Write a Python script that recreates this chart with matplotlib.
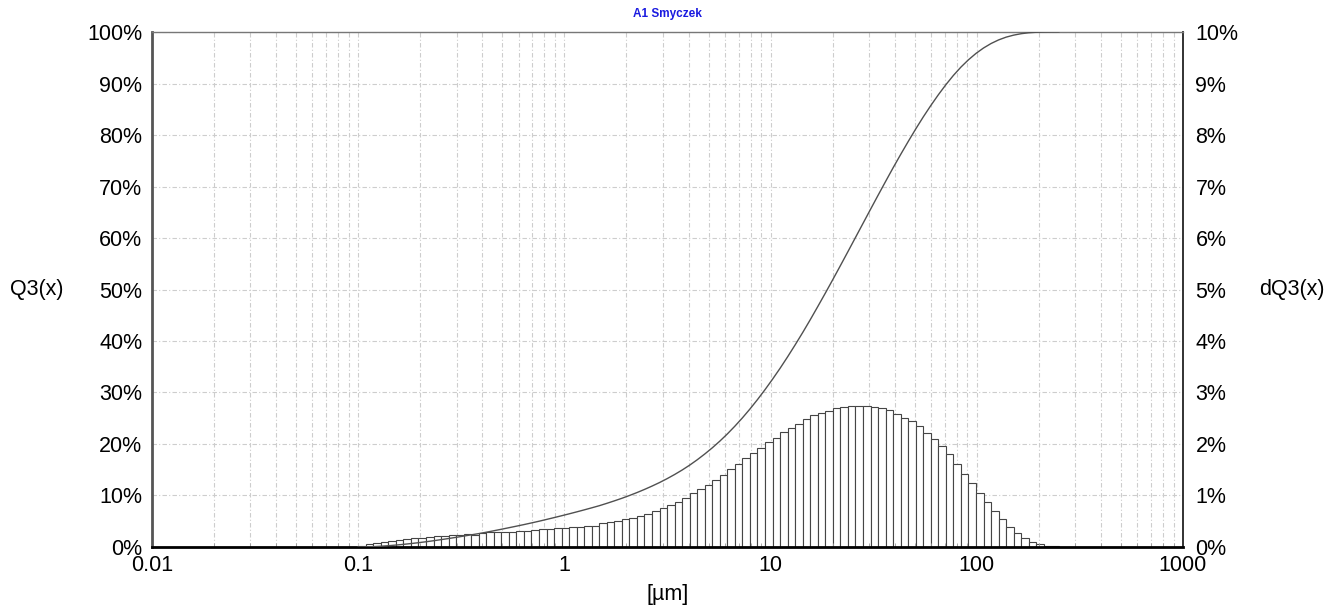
import numpy as np
import matplotlib
matplotlib.use("Agg")
import matplotlib.pyplot as plt
from matplotlib.ticker import FixedLocator, FuncFormatter, LogLocator, NullFormatter

plt.rcParams['font.family'] = ['Liberation Sans', 'DejaVu Sans']

# Particle size classes (µm): geometric classes between these limits
size_lo = 0.1
size_hi = 250.0

# dQ3 per size class (%)
dq3 = [
    0.02, 0.05, 0.08, 0.10, 0.12, 0.14, 0.155, 0.17, 0.18, 0.20, 0.21, 0.22, 0.23, 0.24, 0.245, 0.24,
    0.266, 0.285, 0.29, 0.30, 0.30, 0.31, 0.32, 0.33, 0.35, 0.355, 0.36, 0.37, 0.38, 0.39, 0.40, 0.41,
    0.46, 0.48, 0.50, 0.54, 0.57, 0.61, 0.65, 0.69, 0.75, 0.81, 0.87, 0.95, 1.04, 1.12, 1.20, 1.30,
    1.40, 1.51, 1.61, 1.72, 1.83, 1.93, 2.03, 2.12, 2.23, 2.32, 2.39, 2.48, 2.56, 2.60, 2.65, 2.69,
    2.72, 2.74, 2.74, 2.74, 2.72, 2.69, 2.66, 2.58, 2.51, 2.44, 2.34, 2.21, 2.09, 1.96, 1.80, 1.62,
    1.42, 1.24, 1.05, 0.87, 0.70, 0.54, 0.39, 0.28, 0.18, 0.10, 0.05, 0.02, 0.01,
]

x_ticks = [0.01, 0.1, 1, 10, 100, 1000]
x_labels = ["0.01", "0.1", "1", "10", "100", "1000"]
q3_ticks = list(range(0, 101, 10))
dq3_ticks = list(range(0, 11, 1))

title = "A1 Smyczek"

dq3 = np.asarray(dq3)
edges = np.geomspace(size_lo, size_hi, len(dq3) + 1)
q3 = np.concatenate([[0.0], np.cumsum(dq3)])

fig = plt.figure(figsize=(13.44, 6.10), dpi=100)
ax = fig.add_axes([0.1131, 0.1033, 0.7671, 0.8442])
ax2 = ax.twinx()

# the histogram axis sits below, the cumulative curve axis above it
ax.set_zorder(2)
ax2.set_zorder(1)
ax.patch.set_visible(False)
ax2.patch.set_visible(True)
ax2.patch.set_facecolor("white")

ax.set_xscale("log")
ax.set_xlim(0.01, 1000)
ax.set_ylim(0, 100)
ax2.set_ylim(0, 10)

# grid on the lower axis so that the bars cover it
ax2.xaxis.set_visible(True)
ax2.set_axisbelow(True)
ax2.xaxis.set_major_locator(FixedLocator(x_ticks))
ax2.xaxis.set_minor_locator(LogLocator(base=10, subs=np.arange(2, 10), numticks=20))
ax2.xaxis.set_major_formatter(NullFormatter())
ax2.xaxis.set_minor_formatter(NullFormatter())
grid_style = dict(color="#cdcdcd", linestyle=(0, (4, 2, 1, 2)), linewidth=0.8)
ax2.grid(True, which="both", axis="x", **grid_style)
ax2.grid(True, which="major", axis="y", **grid_style)
ax2.tick_params(axis="x", which="both", length=0, labelbottom=False, labeltop=False)

ax2.bar(edges[:-1], dq3, width=np.diff(edges), align="edge",
        facecolor="white", edgecolor="#454545", linewidth=0.8, zorder=2)

ax.plot(edges, q3, color="#505050", linewidth=1.0, zorder=3)

ax.xaxis.set_major_locator(FixedLocator(x_ticks))
ax.xaxis.set_major_formatter(FuncFormatter(lambda v, p: x_labels[x_ticks.index(v)] if v in x_ticks else ""))
ax.xaxis.set_minor_locator(LogLocator(base=10, subs=np.arange(2, 10), numticks=20))
ax.xaxis.set_minor_formatter(NullFormatter())
ax.set_yticks(q3_ticks)
ax.set_yticklabels([f"{v}%" for v in q3_ticks])
ax2.set_yticks(dq3_ticks)
ax2.set_yticklabels([f"{v}%" for v in dq3_ticks])

ax.tick_params(axis="x", which="major", length=0, pad=6, labelsize=15.5)
ax.tick_params(axis="x", which="minor", length=3, color="#999999", direction="in")
ax.tick_params(axis="y", length=0, pad=7, labelsize=15.5)
ax2.tick_params(axis="y", length=0, pad=9, labelsize=15.5)

for a in (ax, ax2):
    for s in a.spines.values():
        s.set_visible(False)
ax.spines["left"].set_visible(True)
ax.spines["left"].set_color("#555555")
ax.spines["left"].set_linewidth(2.0)
ax.spines["bottom"].set_visible(True)
ax.spines["bottom"].set_color("black")
ax.spines["bottom"].set_linewidth(2.0)
ax.spines["right"].set_visible(True)
ax.spines["right"].set_color("#222222")
ax.spines["right"].set_linewidth(1.3)
ax.spines["top"].set_visible(True)
ax.spines["top"].set_color("#777777")
ax.spines["top"].set_linewidth(1.0)

fig.text(0.0275, 0.525, "Q3(x)", fontsize=15.5, ha="center", va="center")
fig.text(0.961, 0.525, "dQ3(x)", fontsize=15.5, ha="center", va="center")
fig.text(0.4966, 0.025, "[µm]", fontsize=15.5, ha="center", va="center")
fig.text(0.4966, 0.977, title, fontsize=8.5, fontweight="bold", color="#1a1ae0",
         ha="center", va="center")

fig.savefig("out.png", dpi=100, facecolor="white")
